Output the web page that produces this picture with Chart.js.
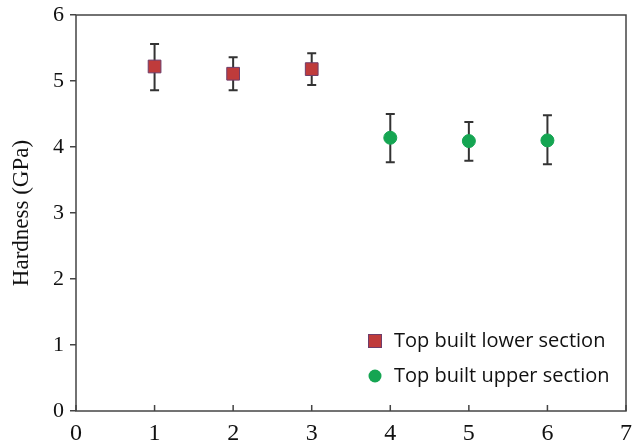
<!DOCTYPE html>
<html>
<head>
<meta charset="utf-8">
<script src="https://cdn.jsdelivr.net/npm/chart.js@4"></script>
<style>
  body { margin: 0; background: #fff; }
  #wrap { width: 637px; height: 447px; }
</style>
</head>
<body>
<div id="wrap"><canvas id="hardnessChart"></canvas></div>
<script>
// values
const lowerX = [1, 2, 3];
const lowerY = [5.22, 5.11, 5.18];
const lowerErrLow = [4.86, 4.86, 4.94];
const lowerErrHigh = [5.56, 5.36, 5.42];

const upperX = [4, 5, 6];
const upperY = [4.14, 4.09, 4.10];
const upperErrLow = [3.77, 3.79, 3.74];
const upperErrHigh = [4.50, 4.38, 4.48];

const seriesNames = ['Top built lower section', 'Top built upper section'];
const xTicks = [0, 1, 2, 3, 4, 5, 6, 7];
const yTicks = [0, 1, 2, 3, 4, 5, 6];

const toPoints = (xs, ys) => xs.map((x, i) => ({ x: x, y: ys[i] }));

// error bars, inward x ticks, frame and legend inside the plot
const extras = {
    id: 'extras',
    beforeDatasetsDraw(chart) {
        const ctx = chart.ctx;
        const xs = chart.scales.x, ys = chart.scales.y;
        const bars = [
            [lowerX, lowerErrLow, lowerErrHigh],
            [upperX, upperErrLow, upperErrHigh]
        ];
        ctx.save();
        ctx.strokeStyle = '#333';
        ctx.lineWidth = 2;
        bars.forEach(([xv, lo, hi]) => {
            xv.forEach((x, i) => {
                const px = xs.getPixelForValue(x);
                const top = ys.getPixelForValue(hi[i]);
                const bot = ys.getPixelForValue(lo[i]);
                ctx.beginPath();
                ctx.moveTo(px, top); ctx.lineTo(px, bot);
                ctx.moveTo(px - 4.5, top); ctx.lineTo(px + 4.5, top);
                ctx.moveTo(px - 4.5, bot); ctx.lineTo(px + 4.5, bot);
                ctx.stroke();
            });
        });
        ctx.restore();
    },
    afterDraw(chart) {
        const ctx = chart.ctx;
        const a = chart.chartArea;
        const xs = chart.scales.x;
        ctx.save();
        ctx.strokeStyle = '#444';
        ctx.lineWidth = 1.5;
        ctx.strokeRect(a.left, a.top, a.right - a.left, a.bottom - a.top);
        ctx.beginPath();
        xTicks.forEach(t => {
            const px = xs.getPixelForValue(t);
            ctx.moveTo(px, a.bottom);
            ctx.lineTo(px, a.bottom - 6);
        });
        ctx.stroke();

        // legend
        const lx = a.right - 251;
        const rows = [a.bottom - 70, a.bottom - 35];
        ctx.font = '20px "Open Sans"';
        ctx.textBaseline = 'middle';
        ctx.textAlign = 'left';
        ctx.fillStyle = '#bf3b3b';
        ctx.strokeStyle = '#6e3d6a';
        ctx.lineWidth = 1;
        ctx.fillRect(lx - 6.5, rows[0] - 6.5, 13, 13);
        ctx.strokeRect(lx - 6.5, rows[0] - 6.5, 13, 13);
        ctx.fillStyle = '#15a552';
        ctx.beginPath();
        ctx.arc(lx, rows[1], 6.5, 0, Math.PI * 2);
        ctx.fill();
        ctx.fillStyle = '#111';
        ctx.fillText(seriesNames[0], lx + 19, rows[0]);
        ctx.fillText(seriesNames[1], lx + 19, rows[1]);
        ctx.restore();
    }
};

const serif = '"Liberation Serif", "Times New Roman", serif';

new Chart(document.getElementById('hardnessChart'), {
    type: 'scatter',
    data: {
        datasets: [{
            label: seriesNames[0],
            data: toPoints(lowerX, lowerY),
            pointStyle: 'rect',
            pointRadius: 9,
            pointHoverRadius: 9,
            backgroundColor: '#bf3b3b',
            borderColor: '#6e3d6a',
            borderWidth: 1
        }, {
            label: seriesNames[1],
            data: toPoints(upperX, upperY),
            pointStyle: 'circle',
            pointRadius: 6.5,
            pointHoverRadius: 6.5,
            backgroundColor: '#15a552',
            borderColor: '#15a552',
            borderWidth: 1
        }]
    },
    options: {
        responsive: true,
        maintainAspectRatio: false,
        animation: false,
        layout: { padding: { top: 15, right: 11, left: 0, bottom: 0 } },
        plugins: {
            legend: { display: false },
            tooltip: { enabled: false }
        },
        scales: {
            x: {
                type: 'linear',
                min: 0, max: 7,
                afterBuildTicks: s => { s.ticks = xTicks.map(v => ({ value: v })); },
                afterFit: s => { s.height = 36; s.paddingLeft = 0; s.paddingRight = 0; },
                grid: { display: false, drawTicks: false },
                border: { display: false },
                ticks: {
                    padding: 8,
                    color: '#111',
                    font: { family: serif, size: 24 }
                }
            },
            y: {
                min: 0, max: 6,
                afterBuildTicks: s => { s.ticks = yTicks.map(v => ({ value: v })); },
                afterFit: s => { s.width = 76; s.paddingTop = 0; s.paddingBottom = 0; },
                grid: { drawOnChartArea: false, tickLength: 6, color: '#444', lineWidth: 1.5 },
                border: { display: false },
                ticks: {
                    padding: 6,
                    color: '#111',
                    font: { family: serif, size: 22 }
                },
                title: {
                    display: true,
                    text: 'Hardness (GPa)',
                    color: '#111',
                    padding: { top: 8, bottom: 0 },
                    font: { family: serif, size: 23 }
                }
            }
        }
    },
    plugins: [extras]
});
</script>
</body>
</html>
